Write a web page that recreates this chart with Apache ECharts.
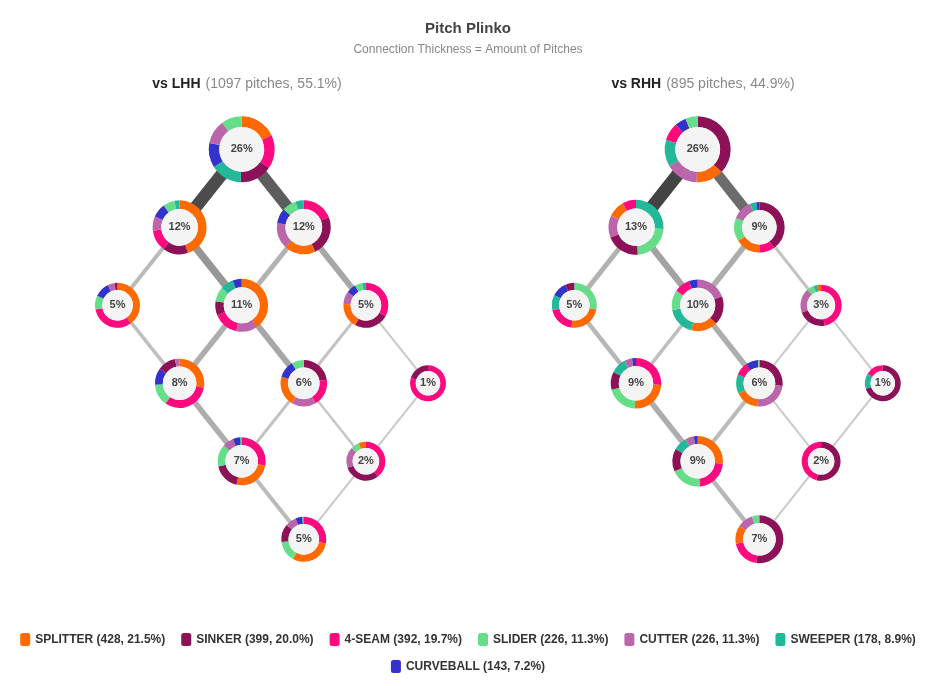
<!DOCTYPE html>
<html>
<head>
<meta charset="utf-8">
<title>Pitch Plinko</title>
<script src="https://cdn.jsdelivr.net/npm/echarts@6/dist/echarts.min.js"></script>
<style>
  html, body { margin: 0; padding: 0; background: #fff; }
  #chart { width: 936px; height: 693px; }
</style>
</head>
<body>
<div id="chart"></div>
<script>
// 球种
const pitchTypes = ['SPLITTER', 'SINKER', '4-SEAM', 'SLIDER', 'CUTTER', 'SWEEPER', 'CURVEBALL'];
const pitchTotals = [428, 399, 392, 226, 226, 178, 143];
const pitchShares = [21.5, 20.0, 19.7, 11.3, 11.3, 8.9, 7.2];
const pitchColors = ['#ff6a00', '#8c1157', '#ff0a7e', '#66dd88', '#bb66aa', '#22b899', '#3333cc'];

// 球数
const countLabels = ['0-0', '0-1', '1-0', '0-2', '1-1', '2-0', '1-2', '2-1', '3-0', '2-2', '3-1', '3-2'];
const lhhPct = [26, 12, 12, 5, 11, 5, 8, 6, 1, 7, 2, 5];
const rhhPct = [26, 13, 9, 5, 10, 3, 9, 6, 1, 9, 2, 7];

const lhhInfo = ['vs LHH', 1097, 55.1];
const rhhInfo = ['vs RHH', 895, 44.9];

// 每个球数下的球种构成（顺时针）：[球种序号, 占比]
const lhhMix = [
  [[0, 18], [2, 16.5], [1, 16], [5, 15.5], [6, 12], [4, 12], [3, 10]],
  [[0, 45], [1, 15], [2, 13], [4, 8.5], [6, 8.5], [3, 7], [5, 3]],
  [[2, 19], [1, 24], [0, 19], [4, 15.5], [6, 9], [3, 8.5], [5, 5]],
  [[0, 40], [2, 32], [3, 10], [6, 11], [4, 5], [1, 2]],
  [[0, 40], [4, 13], [2, 15.5], [1, 8.5], [3, 9], [5, 8], [6, 5.5]],
  [[2, 33], [1, 25], [0, 18], [4, 9], [6, 7], [3, 5.5], [5, 2.5]],
  [[0, 28], [2, 32], [3, 14.5], [6, 11], [1, 12], [4, 3]],
  [[1, 22.5], [2, 19], [4, 17], [0, 21], [6, 12], [3, 8.5]],
  [[2, 80], [1, 20]],
  [[2, 28], [0, 25.5], [1, 18], [3, 15], [4, 7.5], [6, 5], [5, 1]],
  [[2, 39], [1, 30], [4, 17], [3, 7], [0, 6]],
  [[2, 28], [0, 30], [3, 15], [1, 13], [4, 8], [6, 5], [5, 1]]
];
const rhhMix = [
  [[1, 37], [0, 13.5], [4, 16], [5, 13], [2, 9], [6, 5.5], [3, 6]],
  [[5, 26], [3, 23], [1, 20], [4, 13], [0, 10], [2, 8]],
  [[1, 40], [2, 10], [0, 16], [3, 15], [4, 13], [5, 4], [6, 2]],
  [[3, 28], [0, 24], [2, 19.5], [5, 11], [6, 11], [1, 6.5]],
  [[4, 19.5], [1, 18], [0, 16.5], [5, 18], [3, 12.5], [2, 10], [6, 5.5]],
  [[2, 47], [1, 22], [4, 19], [3, 5.5], [5, 3], [0, 3]],
  [[2, 26], [0, 24.5], [3, 20], [1, 11.5], [5, 10], [4, 5], [6, 2.5]],
  [[1, 27], [4, 24.5], [0, 16.5], [5, 13.5], [2, 9.5], [6, 8.5], [3, 1]],
  [[1, 70], [5, 14], [2, 16]],
  [[0, 26.5], [2, 22], [3, 20], [1, 14.5], [5, 9], [4, 5.5], [6, 2.5]],
  [[1, 54], [2, 46]],
  [[1, 52], [2, 20], [0, 12.5], [4, 10.5], [3, 4.5], [5, 0.5]]
];

// 球数之间的连接：[起点, 终点, 投球数]
const lhhLinks = [
  ['0-0', '0-1', 115], ['0-0', '1-0', 105],
  ['0-1', '0-2', 30], ['0-1', '1-1', 65], ['1-0', '1-1', 40], ['1-0', '2-0', 50],
  ['0-2', '1-2', 25], ['1-1', '1-2', 45], ['1-1', '2-1', 50], ['2-0', '2-1', 20], ['2-0', '3-0', 10],
  ['1-2', '2-2', 45], ['2-1', '2-2', 20], ['2-1', '3-1', 15], ['3-0', '3-1', 10],
  ['2-2', '3-2', 30], ['3-1', '3-2', 10]
];
const rhhLinks = [
  ['0-0', '0-1', 120], ['0-0', '1-0', 95],
  ['0-1', '0-2', 40], ['0-1', '1-1', 55], ['1-0', '1-1', 45], ['1-0', '2-0', 20],
  ['0-2', '1-2', 35], ['1-1', '1-2', 25], ['1-1', '2-1', 45], ['2-0', '2-1', 10], ['2-0', '3-0', 10],
  ['1-2', '2-2', 45], ['2-1', '2-2', 30], ['2-1', '3-1', 10], ['3-0', '3-1', 10],
  ['2-2', '3-2', 35], ['3-1', '3-2', 10]
];

const FONT = 'Helvetica Neue, Arial, Liberation Sans, sans-serif';

// 球数 -> 坐标：x = 坏球 - 好球，y = 坏球 + 好球
function nodePos(c) {
  const [b, s] = c.split('-').map(Number);
  return [b - s, b + s];
}
function outerR(p) { return 14.3 + 3.66 * Math.sqrt(p); }
function innerR(p) { return outerR(p) * 0.68; }

function linkColor(v) {
  const t = Math.pow(Math.min(v / 120, 1), 1.5);
  const c = Math.round(204 - (204 - 68) * t);
  return 'rgb(' + c + ',' + c + ',' + c + ')';
}

function panelSeries(idx, pct, links) {
  const nodes = countLabels.map((c, i) => nodePos(c).concat([pct[i], c]));
  return [
    {
      type: 'lines',
      coordinateSystem: 'cartesian2d',
      xAxisIndex: idx,
      yAxisIndex: idx,
      silent: true,
      z: 1,
      data: links.map((l) => ({
        coords: [nodePos(l[0]), nodePos(l[1])],
        lineStyle: { width: 1 + l[2] / 10, color: linkColor(l[2]), opacity: 1 }
      }))
    },
    {
      // 中心灰色圆 + 百分比
      type: 'scatter',
      xAxisIndex: idx,
      yAxisIndex: idx,
      silent: true,
      z: 5,
      symbol: 'circle',
      symbolSize: (val) => innerR(val[2]) * 2,
      itemStyle: { color: '#f4f4f4', opacity: 1 },
      label: {
        show: true,
        position: 'inside',
        formatter: (p) => p.value[2] + '%',
        fontFamily: FONT,
        fontWeight: 'bold',
        fontSize: 11,
        color: '#444'
      },
      data: nodes
    },
    {
      // 球数标签
      type: 'scatter',
      xAxisIndex: idx,
      yAxisIndex: idx,
      silent: true,
      z: 5,
      symbol: 'circle',
      symbolSize: (val) => outerR(val[2]) * 2,
      itemStyle: { opacity: 0 },
      label: {
        show: true,
        position: 'top',
        distance: 2,
        formatter: (p) => p.value[3],
        fontFamily: FONT,
        fontWeight: 'bold',
        fontSize: 12,
        color: '#e0245e'
      },
      data: nodes
    }
  ];
}

function panelTitle(info, x) {
  return {
    text: '{b|' + info[0] + '} {g|(' + info[1] + ' pitches, ' + info[2].toFixed(1) + '%)}',
    left: x,
    top: 70,
    textAlign: 'center',
    textStyle: {
      fontWeight: 'normal',
      rich: {
        b: { fontFamily: FONT, fontSize: 14, fontWeight: 'bold', color: '#222' },
        g: { fontFamily: FONT, fontSize: 14, fontWeight: 'normal', color: '#888' }
      }
    }
  };
}

const legendText = {
  fontFamily: FONT,
  fontWeight: 'bold',
  fontSize: 12,
  color: '#333'
};
function legendFmt(name) {
  const i = pitchTypes.indexOf(name);
  return name + ' (' + pitchTotals[i] + ', ' + pitchShares[i].toFixed(1) + '%)';
}

const chart = echarts.init(document.getElementById('chart'));

const baseSeries = panelSeries(0, lhhPct, lhhLinks).concat(panelSeries(1, rhhPct, rhhLinks));

const option = {
  backgroundColor: '#fff',
  animation: false,
  title: [
    {
      text: 'Pitch Plinko',
      subtext: 'Connection Thickness = Amount of Pitches',
      left: 'center',
      top: 16,
      itemGap: 8,
      textStyle: { fontFamily: FONT, fontSize: 15, fontWeight: 'bold', color: '#444' },
      subtextStyle: { fontFamily: FONT, fontSize: 12, color: '#888' }
    },
    panelTitle(lhhInfo, 242),
    panelTitle(rhhInfo, 698)
  ],
  legend: [
    {
      data: pitchTypes.slice(0, 6),
      top: 628,
      left: 'center',
      icon: 'roundRect',
      itemWidth: 10,
      itemHeight: 13,
      itemGap: 16,
      formatter: legendFmt,
      textStyle: legendText
    },
    {
      data: pitchTypes.slice(6),
      top: 655,
      left: 'center',
      icon: 'roundRect',
      itemWidth: 10,
      itemHeight: 13,
      formatter: legendFmt,
      textStyle: legendText
    }
  ],
  grid: [
    { left: 55.4, top: 149.3, width: 372.6, height: 390 },
    { left: 512.6, top: 149.3, width: 370.2, height: 390 }
  ],
  xAxis: [0, 1].map((i) => ({ gridIndex: i, type: 'value', min: -3, max: 3, show: false })),
  yAxis: [0, 1].map((i) => ({ gridIndex: i, type: 'value', min: 0, max: 5, inverse: true, show: false })),
  series: baseSeries
};
chart.setOption(option);

// 用坐标轴把球数位置换算成像素，放置环形图
function panelPies(idx, pct, mix) {
  return countLabels.map((c, i) => {
    const center = chart.convertToPixel({ gridIndex: idx }, nodePos(c));
    return {
      type: 'pie',
      center: center,
      radius: [innerR(pct[i]), outerR(pct[i])],
      startAngle: 90,
      clockwise: true,
      avoidLabelOverlap: false,
      silent: true,
      z: 3,
      label: { show: false },
      labelLine: { show: false },
      itemStyle: { borderWidth: 0 },
      data: mix[i].map(([t, v]) => ({
        name: pitchTypes[t],
        value: v,
        itemStyle: { color: pitchColors[t] }
      }))
    };
  });
}

const pies = panelPies(0, lhhPct, lhhMix).concat(panelPies(1, rhhPct, rhhMix));
// 让图例颜色与球种对应
const legendSeed = {
  type: 'pie',
  radius: 0,
  center: [-100, -100],
  silent: true,
  label: { show: false },
  data: pitchTypes.map((n, i) => ({ name: n, value: 1, itemStyle: { color: pitchColors[i] } }))
};
chart.setOption({ series: baseSeries.concat(pies, [legendSeed]) });
</script>
</body>
</html>
